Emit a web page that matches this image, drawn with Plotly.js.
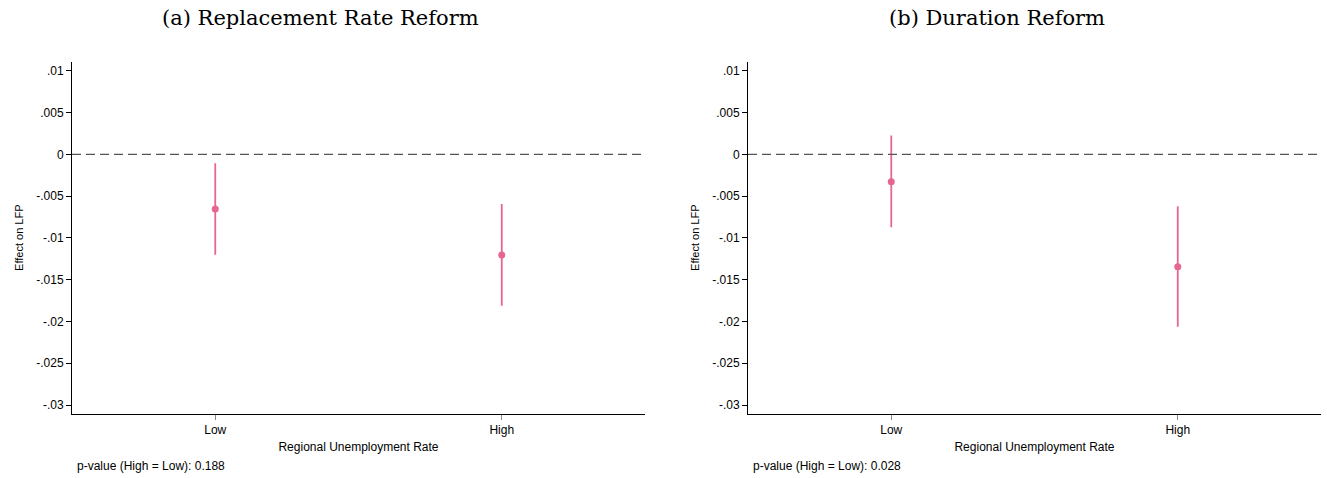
<!DOCTYPE html>
<html>
<head>
<meta charset="utf-8">
<script src="https://cdn.plot.ly/plotly-3.0.1.min.js"></script>
<style>html,body{margin:0;padding:0;background:#fff;}#chart{width:1327px;height:478px;}</style>
</head>
<body>
<div id="chart"></div>
<script>
// ---- data ----
const categories = ["Low", "High"];
const panelTitles = ["(a) Replacement Rate Reform", "(b) Duration Reform"];
const pValueNotes = ["p-value (High = Low): 0.188", "p-value (High = Low): 0.028"];

const replacementEffect = [-0.00655, -0.01205];
const replacementCIUpper = [-0.00108, -0.00595];
const replacementCILower = [-0.01201, -0.01812];

const durationEffect = [-0.00327, -0.01344];
const durationCIUpper = [0.00224, -0.00622];
const durationCILower = [-0.00874, -0.02062];

const yTickValues = [-0.03, -0.025, -0.02, -0.015, -0.01, -0.005, 0, 0.005, 0.01];
const yTickLabels = ["-.03", "-.025", "-.02", "-.015", "-.01", "-.005", "0", ".005", ".01"];
const yAxisTitle = "Effect on LFP";
const xAxisTitle = "Regional Unemployment Rate";

// ---- styling ----
const pink = "#E7668F";
const sans = "Liberation Sans, Arial, sans-serif";
const serif = "DejaVu Serif, Liberation Serif, serif";

function errTrace(eff, up, lo, xa, ya) {
  return {
    type: "scatter", mode: "markers",
    x: categories, y: eff, xaxis: xa, yaxis: ya,
    marker: {color: pink, size: 7},
    error_y: {
      type: "data", symmetric: false,
      array: eff.map((v, i) => up[i] - v),
      arrayminus: eff.map((v, i) => v - lo[i]),
      color: pink, thickness: 1.8, width: 0
    },
    showlegend: false, hoverinfo: "x+y"
  };
}

const data = [
  errTrace(replacementEffect, replacementCIUpper, replacementCILower, "x", "y"),
  errTrace(durationEffect, durationCIUpper, durationCILower, "x2", "y2")
];

function xaxis(domain, anchor) {
  return {
    domain: domain, anchor: anchor, type: "category", range: [-0.5, 1.5],
    showline: true, linecolor: "#000", linewidth: 1, mirror: false,
    ticks: "outside", ticklen: 5, tickcolor: "#888", tickwidth: 1,
    showgrid: false, zeroline: false,
    tickfont: {family: sans, size: 12, color: "#000"},
    title: {text: xAxisTitle, font: {family: sans, size: 12, color: "#000"}, standoff: 6},
    fixedrange: true
  };
}
function yaxis(anchor) {
  return {
    domain: [0.1345, 0.8709], anchor: anchor, range: [-0.03104, 0.01108],
    showline: true, linecolor: "#000", linewidth: 1,
    ticks: "outside", ticklen: 5, tickcolor: "#000", tickwidth: 1,
    tickvals: yTickValues, ticktext: yTickLabels,
    showgrid: false, zeroline: false,
    tickfont: {family: sans, size: 12, color: "#000"},
    title: {text: yAxisTitle, font: {family: sans, size: 11, color: "#000"}, standoff: 10},
    fixedrange: true
  };
}

const layout = {
  width: 1327, height: 478,
  margin: {l: 0, r: 0, t: 0, b: 0},
  paper_bgcolor: "#fff", plot_bgcolor: "#fff",
  xaxis: xaxis([0.05426, 0.48606], "y"),
  yaxis: yaxis("x"),
  xaxis2: xaxis([0.56368, 0.99548], "y2"),
  yaxis2: yaxis("x2"),
  shapes: [
    {type: "line", xref: "x domain", yref: "y", x0: 0, x1: 1, y0: 0, y1: 0,
     line: {color: "#555", width: 1.3, dash: "9px,5px"}},
    {type: "line", xref: "x2 domain", yref: "y2", x0: 0, x1: 1, y0: 0, y1: 0,
     line: {color: "#555", width: 1.3, dash: "9px,5px"}}
  ],
  annotations: [
    {text: panelTitles[0], xref: "paper", yref: "paper", x: 320 / 1327, y: 1 - 18 / 478,
     xanchor: "center", yanchor: "middle", showarrow: false,
     font: {family: serif, size: 21, color: "#000"}},
    {text: panelTitles[1], xref: "paper", yref: "paper", x: 997 / 1327, y: 1 - 18 / 478,
     xanchor: "center", yanchor: "middle", showarrow: false,
     font: {family: serif, size: 21, color: "#000"}},
    {text: pValueNotes[0], xref: "paper", yref: "paper", x: 75 / 1327, y: 1 - 466 / 478,
     xanchor: "left", yanchor: "middle", showarrow: false,
     font: {family: sans, size: 12, color: "#000"}},
    {text: pValueNotes[1], xref: "paper", yref: "paper", x: 751 / 1327, y: 1 - 466 / 478,
     xanchor: "left", yanchor: "middle", showarrow: false,
     font: {family: sans, size: 12, color: "#000"}}
  ]
};

Plotly.newPlot("chart", data, layout, {staticPlot: true, displayModeBar: false});
</script>
</body>
</html>
